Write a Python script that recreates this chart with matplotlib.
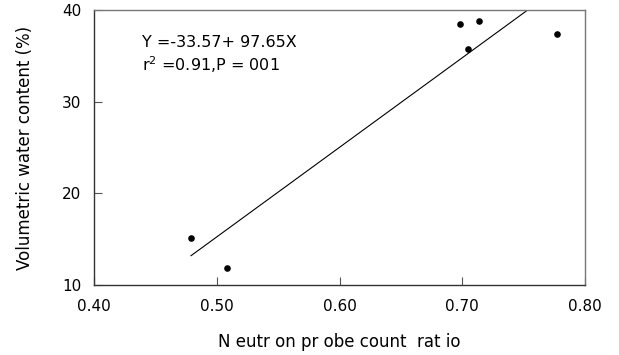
import matplotlib.pyplot as plt
import numpy as np

# observed points (neutron probe count ratio vs volumetric water content)
count_ratio = [0.479, 0.508, 0.698, 0.714, 0.705, 0.7775]
water_content = [15.1, 11.85, 38.45, 38.75, 35.75, 37.35]

# fitted line Y = a + b X
intercept = -33.57
slope = 97.65

x_ticks = [0.40, 0.50, 0.60, 0.70, 0.80]
x_tick_labels = ["0.40", "0.50", "0.60", "0.70", "0.80"]
y_ticks = [10, 20, 30, 40]

fig = plt.figure(figsize=(6.19, 3.55), dpi=100)
ax = fig.add_axes([0.152, 0.197, 0.793, 0.775])

ax.scatter(count_ratio, water_content, s=14, color="black", zorder=3)

x_end = (40 - intercept) / slope
xs = np.array([min(count_ratio), x_end])
ax.plot(xs, intercept + slope * xs, color="black", lw=0.8)

ax.set_xlim(0.40, 0.80)
ax.set_ylim(10, 40)
ax.set_xticks(x_ticks)
ax.set_xticklabels(x_tick_labels)
ax.set_yticks(y_ticks)
ax.tick_params(direction="in", length=6, width=0.8, color="#555555", labelsize=11)
ax.tick_params(axis="x", pad=10)
ax.tick_params(axis="y", pad=9)

for side in ["left", "bottom"]:
    ax.spines[side].set_color("#333333")
    ax.spines[side].set_linewidth(1.0)
for side in ["top", "right"]:
    ax.spines[side].set_color("#777777")
    ax.spines[side].set_linewidth(1.0)

ax.text(0.439, 36.4, "Y =-33.57+ 97.65X", fontsize=11.5, va="center")
ax.text(0.439, 34.0, "r$^2$ =0.91,P = 001", fontsize=11.5, va="center")

ax.set_ylabel("Volumetric water content (%)", fontsize=12, labelpad=20)
ax.set_xlabel("N eutr on pr obe count  rat io", fontsize=12, labelpad=14)

fig.savefig("out.png", dpi=100)
